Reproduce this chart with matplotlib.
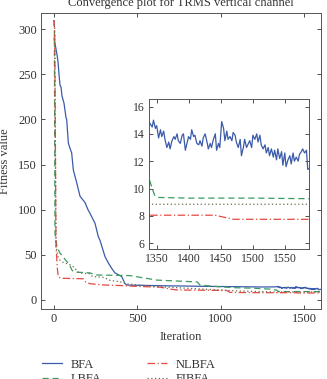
import numpy as np
import matplotlib
matplotlib.use('Agg')
import matplotlib.pyplot as plt

plt.rcParams['font.family'] = ['Liberation Serif', 'DejaVu Serif']

# BFA: steep fall, then noisy plateau (inset range read point by point)
bfa_iter = [0, 10, 18, 24, 30, 36, 42, 48, 54, 60, 66, 72, 76, 86, 96, 106, 116, 136,
            156, 186, 204, 216, 246, 266, 276, 294, 306, 326, 346, 366, 406, 416,
            426, 440, 500, 560, 620, 700, 780, 860, 950, 1050, 1150, 1250, 1320,
            1338, 1342, 1344, 1347, 1349, 1352, 1355, 1357, 1360, 1362, 1365, 1368,
            1370, 1373, 1376, 1378, 1381, 1383, 1386, 1389, 1391, 1394, 1396, 1399,
            1402, 1404, 1407, 1409, 1412, 1415, 1417, 1420, 1422, 1425, 1428, 1430,
            1433, 1435, 1438, 1441, 1443, 1446, 1448, 1451, 1454, 1456, 1459, 1461,
            1464, 1467, 1469, 1472, 1474, 1477, 1480, 1482, 1485, 1487, 1490, 1493,
            1495, 1498, 1500, 1503, 1506, 1508, 1511, 1513, 1516, 1519, 1521, 1524,
            1526, 1529, 1532, 1534, 1537, 1539, 1542, 1545, 1547, 1550, 1552, 1555,
            1558, 1560, 1563, 1565, 1568, 1571, 1573, 1576, 1578, 1581, 1584, 1586,
            1600]
bfa_val = [290, 280, 272, 264, 250, 238, 236, 226, 222, 218, 210, 202, 200, 174, 168,
           163, 144, 130, 115, 108, 100, 96, 85, 70, 66, 55, 48, 41, 35, 30, 26, 22,
           18, 16.5, 16.3, 16, 15.8, 15.6, 15.5, 15.2, 15, 14.8, 14.6, 14.4, 14.5,
           14.8, 14.5, 15.0, 14.4, 14.6, 13.7, 14.3, 13.8, 14.2, 13.6, 13.0, 13.4,
           12.9, 13.5, 13.8, 13.6, 14.0, 13.5, 13.3, 13.9, 14.0, 12.8, 13.2, 13.8,
           13.6, 14.3, 13.8, 13.9, 13.3, 13.2, 13.5, 13.1, 13.7, 14.0, 13.4, 12.9,
           13.3, 13.0, 13.6, 14.0, 12.8, 13.3, 13.0, 14.9, 14.4, 13.5, 14.2, 13.6,
           13.8, 13.5, 14.1, 13.9, 13.4, 13.0, 13.6, 12.4, 13.0, 13.6, 13.0, 13.3,
           13.5, 13.0, 13.9, 13.6, 14.0, 13.4, 13.9, 13.2, 12.9, 13.2, 12.6, 13.0,
           12.4, 12.9, 12.3, 12.8, 12.1, 12.9, 12.2, 12.7, 11.7, 12.6, 11.6, 12.1,
           12.4, 11.8, 12.6, 12.0, 12.3, 12.0, 12.5, 12.7, 12.9, 12.6, 12.8, 11.4,
           11.8]

lbfa_iter = [0, 2, 6, 12, 20, 36, 54, 70, 90, 108, 120, 216, 250, 456, 618, 860, 876,
             936, 1000, 1100, 1200, 1300, 1334, 1338, 1342, 1346, 1350, 1400, 1500,
             1600]
lbfa_val = [310, 300, 74, 65, 58, 52, 48, 44, 40, 33, 31, 30, 27.7, 27, 22, 20, 16.5,
            15.5, 14.5, 13.5, 13, 12, 11, 10.6, 10.0, 9.5, 9.35, 9.3, 9.3, 9.25]

nlbfa_iter = [0, 4, 12, 20, 24, 30, 48, 100, 176, 190, 216, 300, 400, 500, 636, 700,
              736, 900, 1036, 1056, 1200, 1300, 1440, 1455, 1470, 1600]
nlbfa_val = [310, 300, 60, 35, 28, 25, 24, 23.8, 23.5, 20, 18, 16.6, 16, 15, 14.2, 12,
             11.1, 10.8, 10.5, 8.4, 8.1, 8.05, 8.05, 7.9, 7.75, 7.75]

fibfa_iter = [0, 4, 12, 24, 36, 60, 84, 96, 114, 150, 216, 230, 300, 330, 400, 430,
              600, 900, 1100, 1300, 1340, 1600]
fibfa_val = [310, 300, 60, 48, 44, 41, 40, 39, 37, 30, 29, 26, 25, 22, 20, 18, 15,
             12, 10, 9, 8.85, 8.85]

series = [
    ('BFA', bfa_iter, bfa_val, '#3b5ba9', '-'),
    ('LBFA', lbfa_iter, lbfa_val, '#3c9a5f', (0, (5, 3))),
    ('NLBFA', nlbfa_iter, nlbfa_val, '#e5483f', (0, (6, 2, 1, 2))),
    ('FIBFA', fibfa_iter, fibfa_val, '#6b6b4f', (0, (1, 2))),
]

fig = plt.figure(figsize=(3.27, 3.79), dpi=100)
ax = fig.add_axes([0.1254, 0.1847, 0.8563, 0.781])
ins = fig.add_axes([0.4557, 0.3438, 0.4893, 0.395])

frame_col = '#555555'
handles = []
for name, xs, ys, col, ls in series:
    h, = ax.plot(xs, ys, color=col, linestyle=ls, linewidth=0.9, label=name)
    ins.plot(xs, ys, color=col, linestyle=ls, linewidth=0.9)
    handles.append(h)

ax.set_xlim(-78, 1602)
ax.set_ylim(-10, 318)
ax.set_xticks([0, 500, 1000, 1500])
ax.set_yticks([0, 50, 100, 150, 200, 250, 300])
ax.set_xlabel('Iteration', fontsize=9, color='#333333', labelpad=4)
ax.set_ylabel('Fitness value', fontsize=9, color='#333333', labelpad=5)
ax.set_title('Convergence plot for TRMS vertical channel', fontsize=9,
             color='#333333', pad=5)

ins.set_xlim(1337, 1588)
ins.set_ylim(5.6, 16.55)
ins.set_xticks([1350, 1400, 1450, 1500, 1550])
ins.set_yticks([6, 8, 10, 12, 14, 16])

for a in (ax, ins):
    a.tick_params(direction='in', top=True, right=True, length=3, width=0.6,
                  labelsize=9, colors='#333333', pad=3)
    for s in a.spines.values():
        s.set_color(frame_col)
        s.set_linewidth(0.7)
ins.tick_params(labelsize=8.5)

fig.legend(handles=handles, ncol=2, loc='upper left',
           bbox_to_anchor=(0.095, 0.083), frameon=False, fontsize=9,
           handlelength=1.6, handletextpad=0.7, columnspacing=3.6,
           labelspacing=0.2, labelcolor='#333333')

fig.savefig('out.png', dpi=100)
